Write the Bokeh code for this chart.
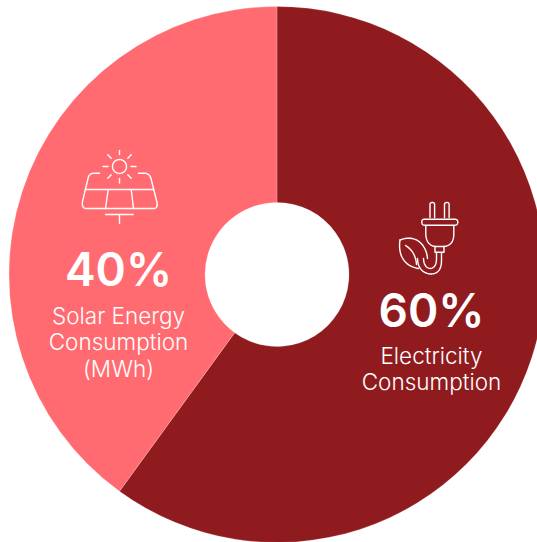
import math
from bokeh.plotting import figure
from bokeh.models import Range1d
from bokeh.embed import file_html
from bokeh.resources import INLINE
from bokeh.core.properties import value

categories = ["Electricity Consumption", "Solar Energy Consumption (MWh)"]
shares = [60, 40]
colors = ["#8F1B1E", "#FF6B70"]
label_lines = [["Electricity", "Consumption"], ["Solar Energy", "Consumption", "(MWh)"]]
label_anchor = [(431, 309), (118, 268)]
caption_top = [354.5, 314.5]

W, H = 537, 542
CX, CY, R_OUT, R_IN = 276.5, 274, 268, 72
HEAD_FONT = value("Inter SemiBold")
BODY_FONT = value("Inter Light")
INK = "#FFFFFF"


def Y(py):
    # Layout is worked out in screen pixels measured from the top edge
    return H - py


def bez(*pts, n=14):
    # Sample a quadratic or cubic Bezier for the line icons
    out = []
    for i in range(n + 1):
        t = i / n
        cur = list(pts)
        while len(cur) > 1:
            cur = [((1 - t) * a[0] + t * b[0], (1 - t) * a[1] + t * b[1]) for a, b in zip(cur, cur[1:])]
        out.append(cur[0])
    return out


def stroke(p, pts, width=1.4):
    p.line([q[0] for q in pts], [Y(q[1]) for q in pts], line_color=INK, line_width=width,
           line_cap="round", line_join="round")


p = figure(width=W, height=H, x_range=Range1d(0, W), y_range=Range1d(0, H),
           toolbar_location=None, output_backend="svg", min_border=0,
           background_fill_color="#FFFFFF", border_fill_color="#FFFFFF", outline_line_color=None)
p.axis.visible = False
p.grid.visible = False

# Ring slices run clockwise from twelve o'clock
total = sum(shares)
start = math.pi / 2
for share, color in zip(shares, colors):
    end = start - 2 * math.pi * share / total
    p.annular_wedge(x=CX, y=Y(CY), inner_radius=R_IN, outer_radius=R_OUT,
                    start_angle=end, end_angle=start, direction="anticlock",
                    fill_color=color, line_color="#FFFFFF", line_alpha=0.35, line_width=0.6)
    start = end

# Percentages with their captions
for share, lines, (ax, ay), top in zip(shares, label_lines, label_anchor, caption_top):
    p.text(x=[ax], y=[Y(ay)], text=[f"{share}%"], text_font=HEAD_FONT, text_font_style="normal",
           text_font_size="46px", text_color=INK, text_align="center", text_baseline="middle")
    for i, line in enumerate(lines):
        p.text(x=[ax], y=[Y(top + 26.5 * i)], text=[line], text_font=BODY_FONT, text_font_style="normal",
               text_font_size="22.5px", text_color=INK, text_align="center", text_baseline="middle")

# Solar panel icon
sx, sy = 119, 166
t = [2 * math.pi * i / 40 for i in range(41)]
stroke(p, [(sx + 7 * math.cos(a), sy + 7 * math.sin(a)) for a in t])
for a, b in [((119, 150), (119, 154)), ((119, 178), (119, 182.5)), ((102.5, 166), (107.5, 166)),
             ((130.5, 166), (135.5, 166)), ((107.3, 154.3), (110.7, 157.7)), ((130.7, 154.3), (127.3, 157.7)),
             ((107.3, 177.7), (110.7, 174.3)), ((130.7, 177.7), (127.3, 174.3))]:
    stroke(p, [a, b])
stroke(p, [(99, 172.7), (93, 172.7)] + bez((93, 172.7), (88.5, 173), (87.5, 178)) + [(82, 201)]
       + bez((82, 201), (81, 208), (86, 208)) + [(153, 208)] + bez((153, 208), (157.5, 208), (156.5, 202))
       + [(150.5, 178)] + bez((150.5, 178), (149, 173), (144, 172.7)) + [(138, 172.7)])
stroke(p, [(85, 189), (152.5, 189)])
stroke(p, [(107.7, 189), (105, 208)])
stroke(p, [(130.7, 189), (133, 208)])
stroke(p, [(105, 214), (132.7, 214)])
stroke(p, [(119, 214), (119, 222.7)])

# Plug with leaf icon
for x0 in (429.5, 444):
    stroke(p, [(x0, 217), (x0, 204)] + bez((x0, 204), (x0, 202), (x0 + 2.3, 202)) +
           bez((x0 + 2.3, 202), (x0 + 4.6, 202), (x0 + 4.6, 204)) + [(x0 + 4.6, 217)])
stroke(p, [(424, 218.7), (454, 218.7)] + bez((454, 218.7), (457.3, 218.7), (457.3, 221.5))
       + bez((457.3, 221.5), (457.3, 224.7), (454, 224.7)) + [(424, 224.7)]
       + bez((424, 224.7), (421.3, 224.7), (421.3, 221.5)) + bez((421.3, 221.5), (421.3, 218.7), (424, 218.7)))
stroke(p, [(425.3, 225), (425.3, 234)] + bez((425.3, 234), (426, 245), (435, 246)) + [(443.5, 246)]
       + bez((443.5, 246), (453, 245), (453.3, 234)) + [(453.3, 225)])
stroke(p, [(434.5, 246), (434.5, 251.7), (443.5, 251.7), (443.5, 246)])
# Power cord, a doubled U that hangs below the collar
stroke(p, [(436, 252), (436, 258)] + bez((436, 258), (436, 267), (430, 268)) + bez((430, 268), (423.5, 267.5), (423, 258)))
stroke(p, [(441, 252), (441, 260)] + bez((441, 260), (441, 273.5), (430, 273.5))
       + bez((430, 273.5), (417.5, 272), (417, 258)))
# Leaf outline and vein
stroke(p, bez((399.5, 239.5), (416, 233), (426, 245), (427, 258)))
stroke(p, bez((399.5, 239.5), (397, 256), (405, 266), (418, 268)))
stroke(p, bez((405, 245), (415, 251), (416, 264)))

open("out.html", "w").write(file_html(p, INLINE))
